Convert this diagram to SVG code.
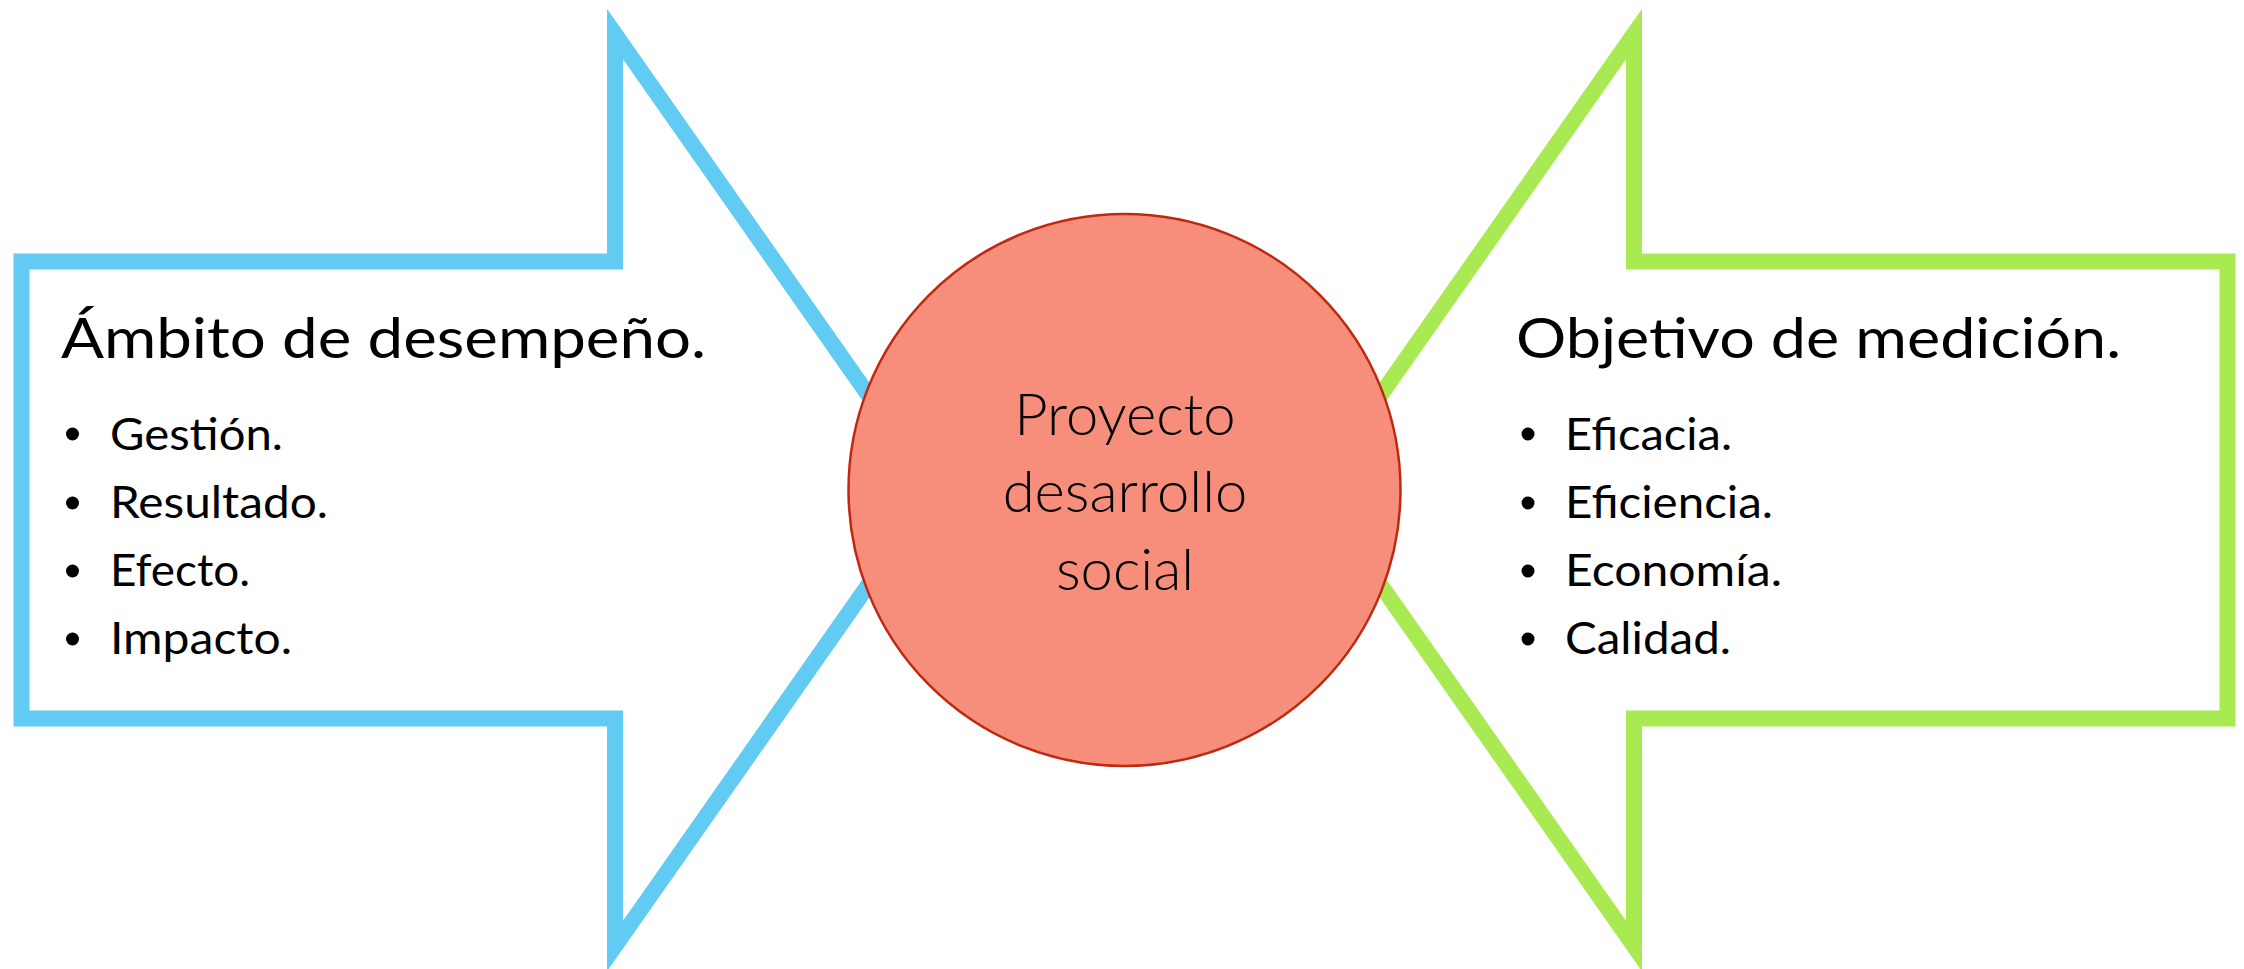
<svg xmlns="http://www.w3.org/2000/svg" width="2244" height="969" viewBox="0 0 2244 969">
  <style>
    .arrow { fill: #FFFFFF; stroke-width: 16; stroke-linejoin: miter; stroke-miterlimit: 10; }
    .blue { stroke: #61CBF3; }
    .green { stroke: #A9EA52; }
    .title { font-family: Lato, "Liberation Sans", sans-serif; font-size: 57px; fill: #000000; }
    .item { font-family: Lato, "Liberation Sans", sans-serif; font-size: 45px; fill: #000000; }
    .center { font-family: Lato, "Open Sans", sans-serif; font-weight: 300; font-size: 58px; fill: #000000; text-anchor: middle; }
    .dot { fill: #000000; }
  </style>
  <rect width="2244" height="969" fill="#FFFFFF"/>
  <g id="connectors"></g>
  <g id="left-arrow">
    <path class="arrow blue" d="M21.5,261.5 H615 V34 L935,490 L615,946 V718.5 H21.5 Z"/>
    <text class="title" x="61" y="358" textLength="645" lengthAdjust="spacingAndGlyphs">Ámbito de desempeño.</text>
    <circle class="dot" cx="72.5" cy="434" r="6.5"/>
    <circle class="dot" cx="72.5" cy="503" r="6.5"/>
    <circle class="dot" cx="72.5" cy="571" r="6.5"/>
    <circle class="dot" cx="72.5" cy="639" r="6.5"/>
    <text class="item" x="110" y="449.5" textLength="173" lengthAdjust="spacingAndGlyphs">Gestión.</text>
    <text class="item" x="110" y="518" textLength="218" lengthAdjust="spacingAndGlyphs">Resultado.</text>
    <text class="item" x="110" y="586" textLength="140" lengthAdjust="spacingAndGlyphs">Efecto.</text>
    <text class="item" x="110" y="654" textLength="182" lengthAdjust="spacingAndGlyphs">Impacto.</text>
  </g>
  <g id="right-arrow">
    <path class="arrow green" d="M2227.5,261.5 H1634 V34 L1314,490 L1634,946 V718.5 H2227.5 Z"/>
    <text class="title" x="1516" y="358" textLength="605" lengthAdjust="spacingAndGlyphs">Objetivo de medición.</text>
    <circle class="dot" cx="1528" cy="434" r="6.5"/>
    <circle class="dot" cx="1528" cy="503" r="6.5"/>
    <circle class="dot" cx="1528" cy="571" r="6.5"/>
    <circle class="dot" cx="1528" cy="639" r="6.5"/>
    <text class="item" x="1565" y="449.5" textLength="167" lengthAdjust="spacingAndGlyphs">Eficacia.</text>
    <text class="item" x="1565" y="518" textLength="208" lengthAdjust="spacingAndGlyphs">Eficiencia.</text>
    <text class="item" x="1565" y="586" textLength="217" lengthAdjust="spacingAndGlyphs">Economía.</text>
    <text class="item" x="1565" y="654" textLength="166" lengthAdjust="spacingAndGlyphs">Calidad.</text>
  </g>
  <g id="center-node">
    <circle cx="1124.5" cy="490" r="276" fill="#F78E7C" stroke="#C0280F" stroke-width="2.5"/>
    <text class="center" x="1125" y="435">Proyecto</text>
    <text class="center" x="1125" y="512">desarrollo</text>
    <text class="center" x="1125" y="590">social</text>
  </g>
</svg>
